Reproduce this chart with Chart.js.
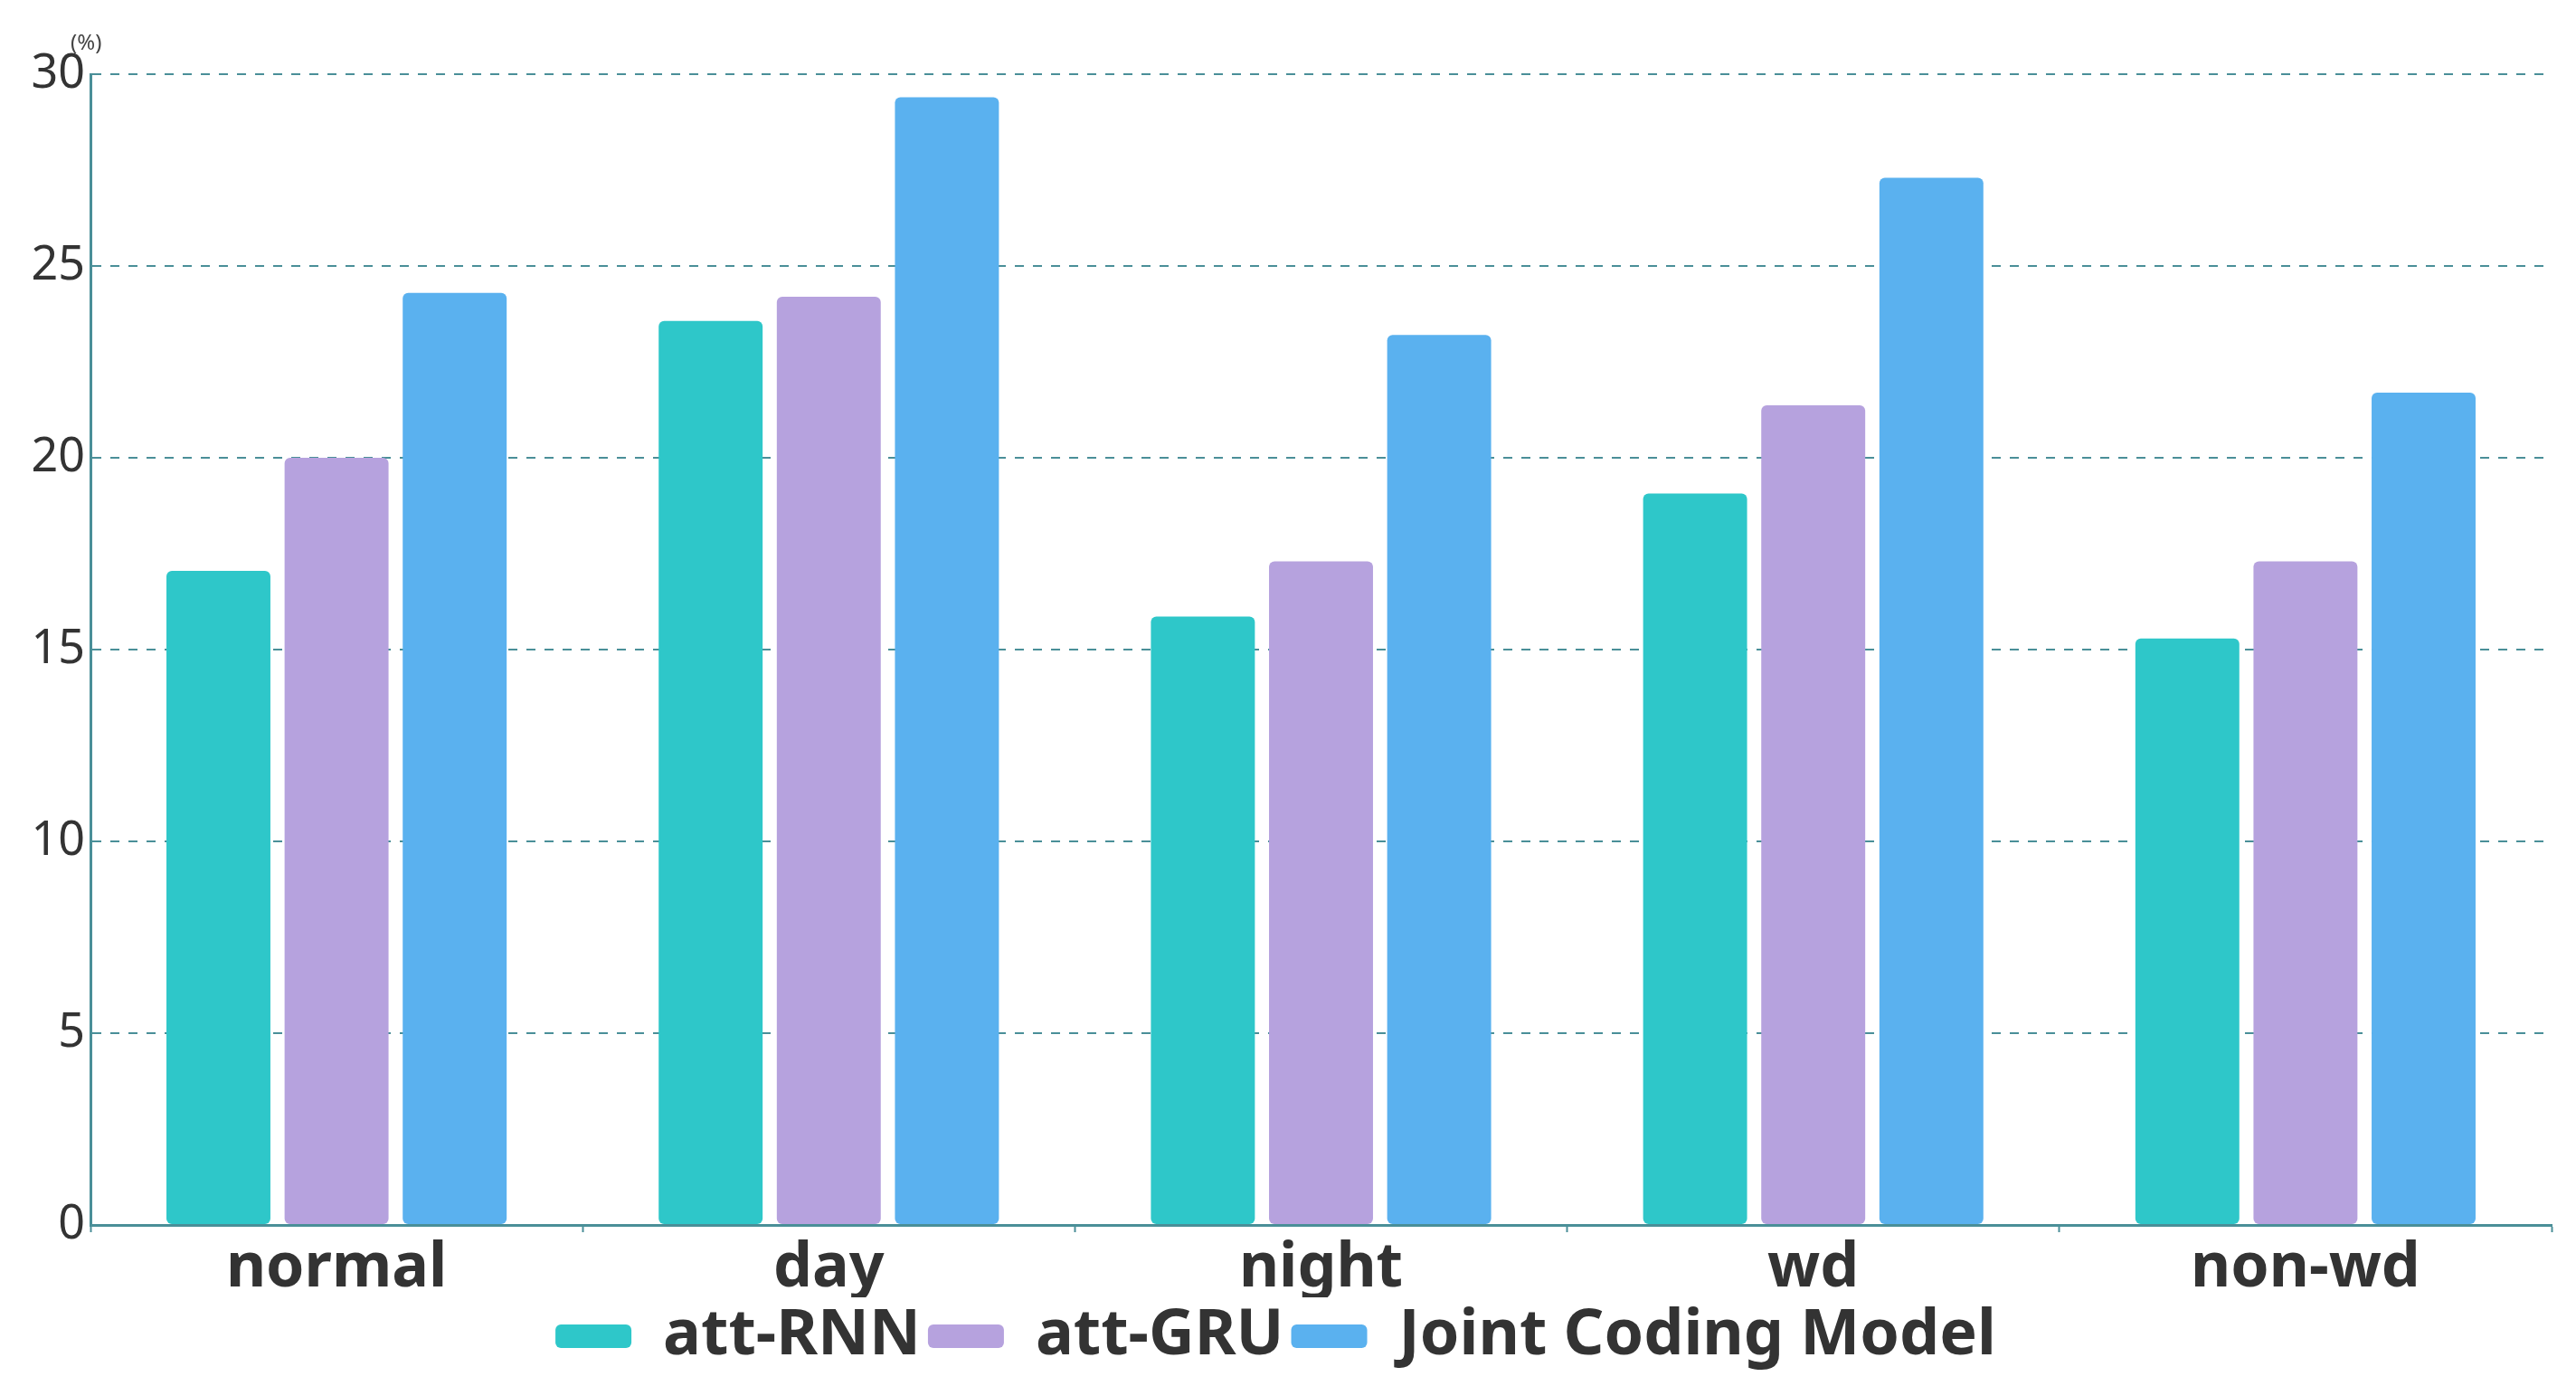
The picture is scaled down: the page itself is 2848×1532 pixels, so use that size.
<!DOCTYPE html>
<html>
<head>
<meta charset="utf-8">
<script src="https://cdn.jsdelivr.net/npm/chart.js@4"></script>
<style>
  html, body { margin: 0; padding: 0; background: #fff; }
  #wrap { width: 2848px; height: 1532px; position: relative; }
</style>
</head>
<body>
<div id="wrap"><canvas id="c"></canvas></div>
<script>
// ── 데이터 ─────────────────────────────────────
const categories = ['normal', 'day', 'night', 'wd', 'non-wd'];
const attRNN = [17.05, 23.57, 15.86, 19.07, 15.29];
const attGRU = [20.0, 24.2, 17.3, 21.37, 17.3];
const jointModel = [24.3, 29.4, 23.2, 27.3, 21.7];
const seriesNames = ['att-RNN', 'att-GRU', 'Joint Coding Model'];
const seriesColors = ['#2EC7C9', '#B6A2DE', '#5AB1EF'];

const AXIS_COLOR = '#4a8f98';
const FONT = "'Noto Sans', 'Open Sans', sans-serif";

// y축 위 "(%)" 단위 표시
const unitLabel = {
  id: 'unitLabel',
  afterDraw(chart) {
    const { ctx, chartArea } = chart;
    ctx.save();
    ctx.font = `24px ${FONT}`;
    ctx.fillStyle = '#444';
    ctx.textAlign = 'left';
    ctx.textBaseline = 'bottom';
    ctx.fillText('(%)', chartArea.left - 22, chartArea.top - 22);
    ctx.restore();
  },
};

const datasets = [attRNN, attGRU, jointModel].map((d, i) => ({
  label: seriesNames[i],
  data: d,
  backgroundColor: seriesColors[i],
  borderRadius: 6,
  borderSkipped: false,
  categoryPercentage: 0.72,
  barPercentage: 0.88,
}));

new Chart(document.getElementById('c'), {
  type: 'bar',
  data: { labels: categories, datasets },
  plugins: [unitLabel],
  options: {
    responsive: true,
    maintainAspectRatio: false,
    animation: false,
    devicePixelRatio: 1,
    layout: { padding: { top: 82, right: 27, left: 0, bottom: 10 } },
    plugins: {
      tooltip: { enabled: false },
      legend: {
        position: 'bottom',
        labels: {
          font: { family: FONT, size: 70, weight: 'bold' },
          color: '#333',
          boxWidth: 84,
          boxHeight: 26,
          useBorderRadius: true,
          borderRadius: 6,
          padding: 8,
        },
      },
    },
    scales: {
      x: {
        afterFit: (s) => { s.height = 80; },
        grid: {
          display: true,
          drawOnChartArea: false,
          offset: true,
          color: AXIS_COLOR,
          tickLength: 8,
          tickWidth: 2,
        },
        border: { color: AXIS_COLOR, width: 3 },
        ticks: {
          font: { family: FONT, size: 68, weight: 'bold' },
          color: '#333',
          padding: 0,
        },
      },
      y: {
        min: 0,
        max: 30,
        afterFit: (s) => { s.width = 100; },
        ticks: {
          stepSize: 5,
          font: { family: FONT, size: 52 },
          color: '#333',
          padding: 6,
        },
        grid: { color: AXIS_COLOR, lineWidth: 2, drawTicks: false },
        border: { color: AXIS_COLOR, width: 3, dash: [10, 10] },
      },
    },
  },
});
</script>
</body>
</html>
